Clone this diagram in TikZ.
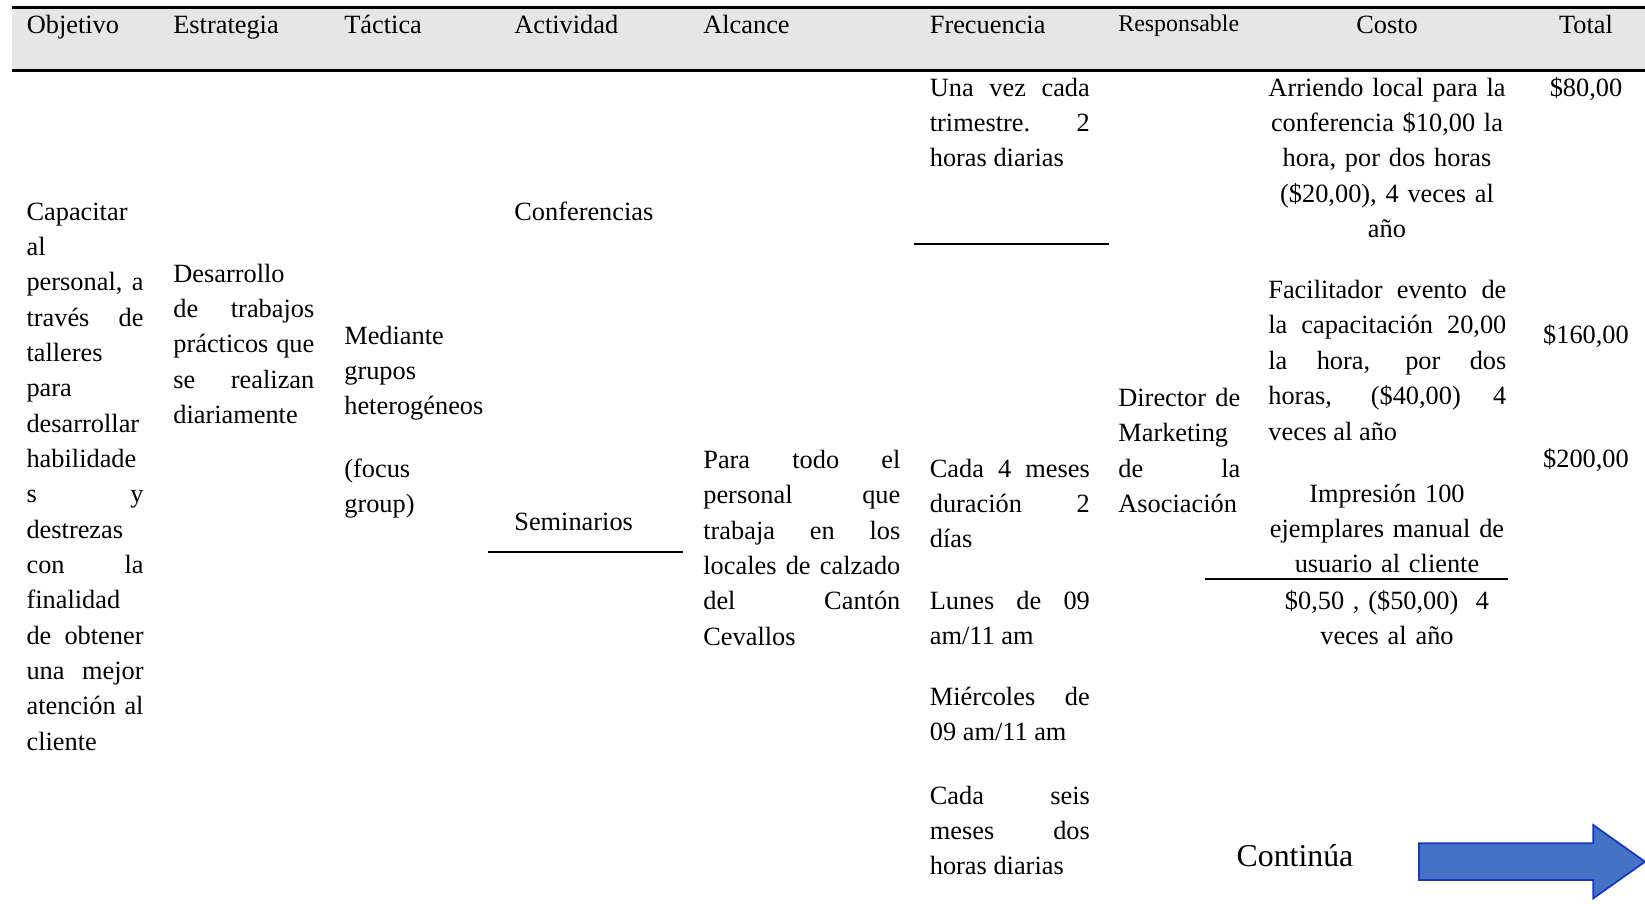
\documentclass[tikz,border=0pt]{standalone}
\usepackage{fontspec}
\setmainfont{Liberation Serif}
\newdimen\pxu \pxu=0.02cm
\hyphenpenalty=10000
\tolerance=10000
\hbadness=10000
\definecolor{hdrgray}{RGB}{231,230,230}
\definecolor{flechafill}{RGB}{68,114,196}
\definecolor{flechaline}{RGB}{20,55,200}
\tikzset{
  txt/.style={anchor=base west, inner sep=0pt, font=\fontsize{15}{20.12}\selectfont},
  just/.style={txt, align=justify, text width=#1\pxu},
  leftcol/.style={txt, align=left, text width=#1\pxu},
  cent/.style={txt, anchor=base, align=center, text width=#1\pxu},
  regla/.style={line width=1.1pt},
  flecha/.style={fill=flechafill, draw=flechaline, line width=1pt, line join=miter},
}
\begin{document}
\begin{tikzpicture}[x=0.02cm, y=-0.02cm]
    \useasboundingbox (0,0) rectangle (1645,903);

    % encabezado
    \fill[hdrgray] (11.7,7.3) rectangle (1645,70.7);
    \draw[line width=1.6pt] (11.7,7.3) -- (1645,7.3);
    \draw[line width=1.6pt] (11.7,70.7) -- (1645,70.7);
    \draw (26.5,33) node[txt] (hObj) {Objetivo};
    \draw (173,33) node[txt] (hEst) {Estrategia};
    \draw (344,33) node[txt] (hTac) {Táctica};
    \draw (514,33) node[txt] (hAct) {Actividad};
    \draw (703,33) node[txt] (hAlc) {Alcance};
    \draw (929.5,33) node[txt] (hFre) {Frecuencia};
    \draw (1118,31) node[txt, font=\fontsize{13.6}{16}\selectfont] (hRes) {Responsable};
    \draw (1387,33) node[txt, anchor=base] (hCos) {Costo};
    \draw (1586,33) node[txt, anchor=base] (hTot) {Total};

    % objetivo y estrategia
    \draw (26.2,220) node[just=117] (obj) {Capacitar\linebreak al\linebreak personal, a\linebreak trav\'es de\linebreak talleres\linebreak para\linebreak desarrollar\linebreak habilidade\linebreak s y\linebreak destrezas\linebreak con la\linebreak finalidad\linebreak de obtener\linebreak una mejor\linebreak atenci\'on al\linebreak cliente};
    \draw (173,282) node[just=141] (est) {Desarrollo\linebreak de trabajos\linebreak pr\'acticos que\linebreak se realizan\linebreak diariamente};

    % tactica y actividad
    \draw (344,344) node[leftcol=150] (tac) {Mediante\\grupos\\heterog\'eneos};
    \draw (344,477) node[leftcol=150] (focus) {(focus\\group)};
    \draw (514,220) node[txt] (conf) {Conferencias};
    \draw (514,530) node[txt] (semi) {Seminarios};
    \draw[regla] (488,551.7) -- (683,551.7);

    % alcance
    \draw (703,468.5) node[just=197] (alc) {Para todo el\linebreak personal que\linebreak trabaja en los\linebreak locales de calzado\linebreak del Cant\'on\linebreak Cevallos};

    % frecuencia
    \draw (929.5,96) node[just=160] (fre1) {Una vez cada\linebreak trimestre. 2\linebreak horas diarias};
    \draw[regla] (913.7,244.4) -- (1108.9,244.4);
    \draw (929.5,477) node[just=160] (fre2) {Cada 4 meses\linebreak duraci\'on 2\linebreak d\'ias};
    \draw (929.5,609) node[just=160] (fre3) {Lunes de 09\linebreak am/11 am};
    \draw (929.5,705.6) node[just=160] (fre4) {Mi\'ercoles de\linebreak 09 am/11 am};
    \draw (929.5,804) node[just=160] (fre5) {Cada seis\linebreak meses dos\linebreak horas diarias};

    % responsable
    \draw (1118,406.6) node[just=122] (resp) {Director de\linebreak Marketing\linebreak de la\linebreak Asociaci\'on};

    % costo
    \draw (1387,96) node[cent=250] (cos1) {Arriendo local para la\\conferencia \$10,00 la\\hora, por dos horas\\(\$20,00), 4 veces al\\a\~no};
    \draw (1268,298.6) node[just=238] (cos2) {Facilitador evento de\linebreak la capacitaci\'on 20,00\linebreak la hora, por dos\linebreak horas, (\$40,00) 4\linebreak veces al a\~no};
    \draw (1387,502) node[cent=250] (cos3) {Impresi\'on 100\\ejemplares manual de\\usuario al cliente};
    \draw[regla] (1205.4,579) -- (1507.5,579);
    \draw (1387,609) node[cent=250] (cos4) {\$0,50 , (\$50,00) \ 4\\veces al a\~no};

    % total
    \draw (1586,96) node[txt, anchor=base] (tot1) {\$80,00};
    \draw (1586,343.7) node[txt, anchor=base] (tot2) {\$160,00};
    \draw (1586,467.5) node[txt, anchor=base] (tot3) {\$200,00};

    % continua
    \draw (1295,866) node[txt, anchor=base, font=\fontsize{18.1}{20}\selectfont] (cont) {Contin\'ua};
    \draw[flecha] (1419,843.3) -- (1593.3,843.3) -- (1593.3,825) -- (1645,861.7)
        -- (1593.3,898.3) -- (1593.3,880) -- (1419,880) -- cycle;
\end{tikzpicture}
\end{document}
